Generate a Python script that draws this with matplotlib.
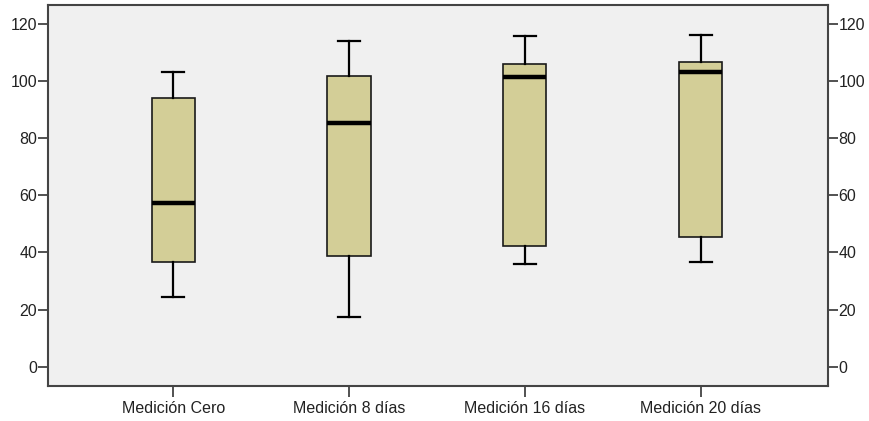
import matplotlib.pyplot as plt

labels = ["Medición Cero", "Medición 8 días", "Medición 16 días", "Medición 20 días"]
whislo = [24.4, 17.5, 35.9, 36.8]
q1 = [36.7, 38.8, 42.3, 45.5]
med = [57.3, 85.2, 101.5, 103.2]
q3 = [94.1, 101.8, 105.9, 106.7]
whishi = [103.3, 113.9, 115.8, 116.1]

plt.rcParams['font.family'] = ['Liberation Sans', 'DejaVu Sans']

fig = plt.figure(figsize=(8.7, 4.21), dpi=100)
ax = fig.add_axes([0.0548, 0.0838, 0.8973, 0.9042])
ax.set_facecolor('#F0F0F0')

stats = []
for i in range(len(labels)):
    stats.append(dict(label=labels[i], whislo=whislo[i], q1=q1[i], med=med[i],
                      q3=q3[i], whishi=whishi[i], fliers=[]))

ax.bxp(stats, positions=[1, 2, 3, 4], widths=0.245, patch_artist=True,
       showfliers=False,
       boxprops=dict(facecolor='#D3CE97', edgecolor='#1a1a1a', linewidth=1.2),
       medianprops=dict(color='black', linewidth=3.2, solid_capstyle='butt'),
       whiskerprops=dict(color='black', linewidth=1.6),
       capprops=dict(color='black', linewidth=1.6),
       capwidths=0.125)

ax.set_xlim(0.286, 4.726)
ax.set_ylim(-6.65, 126.6)
ax.set_yticks([0, 20, 40, 60, 80, 100, 120])
ax.tick_params(axis='y', which='both', left=True, right=True, labelleft=True,
               labelright=True, length=7, width=1.2, color='#333333',
               labelsize=11.5, labelcolor='#222222', pad=0.5)
ax.tick_params(axis='x', length=8, width=1.2, color='#333333', labelsize=11.5,
               labelcolor='#222222', pad=3)
for sp in ax.spines.values():
    sp.set_color('#444444')
    sp.set_linewidth(1.5)

fig.savefig('out.png', dpi=100)
